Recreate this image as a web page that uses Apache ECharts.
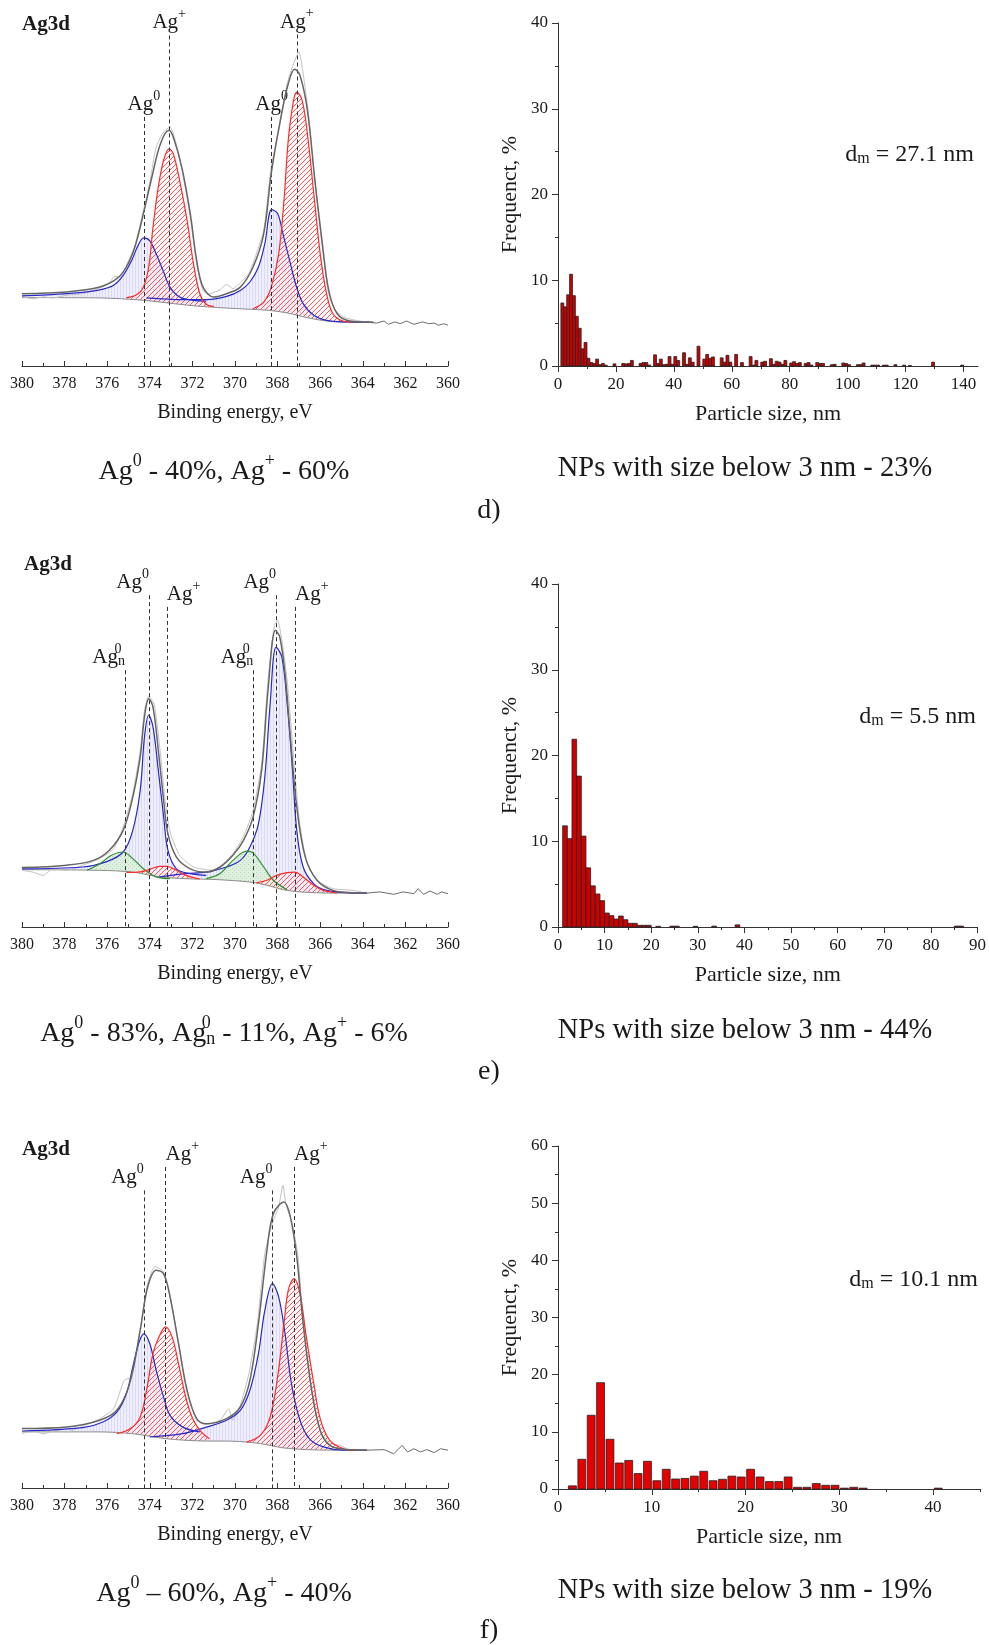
<!DOCTYPE html>
<html>
<head>
<meta charset="utf-8">
<script src="https://cdn.jsdelivr.net/npm/echarts@6.0.0/dist/echarts.min.js"></script>
<style>html,body{margin:0;padding:0;background:#fff}#c{width:989px;height:1645px}</style>
</head>
<body>
<div id="c"></div>
<script>
// ===== XPS panel d) : [binding energy eV, intensity a.u.] =====
const bgD = [[380,22.8],[376.35,22.7],[374.3,21.9],[372.9,20.8],[371.65,19.9],[370.1,19.2],[368.5,18.6],[367.55,17.7],[366.6,16.1],[365.7,15.0],[364.6,14.6],[363.5,14.6]];
const blueD1 = [[380,23.4],[377.9,24.1],[376.35,25.4],[375.7,26.9],[375.25,30.2],[374.85,35.2],[374.55,40.2],[374.28,42.7],[374.0,41.7],[373.7,37.4],[373.35,31.3],[373.05,26.3],[372.6,23.0],[371.95,21.9],[371.35,21.6]];
const blueD2 = [[374.15,22.7],[372.45,22.1],[371.35,22.1],[370.4,23.2],[369.75,25.2],[369.3,28.0],[368.9,33.0],[368.6,40.8],[368.28,52.1],[368.0,50.8],[367.75,44.1],[367.4,34.1],[367.1,26.1],[366.8,20.8],[366.3,16.9],[365.7,15.2],[364.75,14.7],[363.65,14.6]];
const redD1 = [[375.1,22.7],[374.6,23.8],[374.3,26.3],[374.05,33.0],[373.85,46.3],[373.6,59.7],[373.35,68.6],[373.1,72.4],[372.9,70.8],[372.6,61.9],[372.25,48.6],[371.95,34.1],[371.65,24.1],[371.35,20.6],[371.0,19.9]];
const redD2 = [[369.15,19.1],[368.65,21.3],[368.3,26.3],[367.95,37.4],[367.7,55.2],[367.5,75.2],[367.25,88.6],[367.1,91.3],[366.85,88.6],[366.6,77.4],[366.3,57.4],[366.0,37.4],[365.7,24.1],[365.4,17.4],[364.9,14.9],[364.45,14.6]];
const envD = [[380,24.1],[377.9,24.7],[376.35,26.3],[375.55,29.1],[375.1,33.0],[374.7,39.7],[374.3,50.8],[373.9,63.0],[373.5,74.1],[373.1,78.6],[372.9,76.3],[372.5,66.3],[372.1,50.8],[371.8,35.2],[371.5,26.3],[371.0,23.0],[370.4,24.1],[369.75,26.3],[369.15,33.0],[368.65,44.1],[368.3,64.1],[367.9,80.8],[367.5,94.1],[367.2,98.9],[366.95,96.9],[366.6,85.2],[366.25,61.9],[365.9,40.8],[365.6,25.2],[365.2,17.4],[364.6,15.0],[363.5,14.6]];
const rawD = [[380,23.2],[379.5,22.4],[379.0,23.0],[378.55,22.7],[377.9,23.6],[377.15,24.1],[376.35,26.0],[375.9,27.7],[375.65,29.9],[375.4,29.7],[375.1,33.6],[374.7,40.2],[374.3,51.9],[374.0,61.3],[373.7,73.0],[373.35,78.0],[373.05,79.7],[372.8,75.2],[372.5,65.7],[372.1,49.7],[371.8,34.1],[371.5,25.2],[371.2,24.1],[370.7,25.4],[370.4,27.2],[370.1,25.8],[369.75,27.7],[369.35,30.8],[369.0,37.4],[368.65,45.2],[368.3,66.3],[367.95,78.6],[367.55,94.1],[367.25,100.8],[367.0,104.7],[366.8,97.4],[366.55,84.1],[366.25,61.9],[365.9,39.7],[365.6,24.1],[365.3,18.6],[364.9,16.3],[364.45,15.4],[363.8,14.6]];
const tailD = [[363.8,14.6],[363.35,14.3],[363.0,15.0],[362.8,13.9],[362.5,14.7],[362.25,14.1],[361.95,15.0],[361.6,13.9],[361.2,14.7],[360.9,14.1],[360.65,14.3],[360.45,13.6],[360.2,14.1],[360,13.6]];
const peakXD = [374.28, 373.09, 368.28, 367.1];
const peakTopD = [83.0, 110.2, 83.0, 110.5];
const peakLabD = ['Ag0', 'Ag+', 'Ag0', 'Ag+'];

// ===== XPS panel e) =====
const bgE = [[380,19.1],[376.35,18.9],[374.8,18.3],[373.55,16.7],[372.3,16.1],[370.85,15.8],[369.3,15.0],[368.5,13.9],[367.7,12.4],[366.95,11.7],[365.4,11.3],[363.8,11.3]];
const blueE1 = [[380,19.4],[377.15,20.0],[376.05,21.7],[375.25,25.0],[374.8,32.2],[374.45,45.6],[374.25,63.3],[374.05,70.6],[373.85,66.7],[373.6,52.2],[373.35,36.7],[373.15,25.6],[372.75,19.4],[372.1,17.8],[371.35,17.2]];
const blueE2 = [[373.55,16.7],[372.3,17.8],[371.35,18.3],[370.4,20.0],[369.75,22.2],[369.3,26.7],[368.9,34.4],[368.6,50.0],[368.35,74.4],[368.07,93.3],[367.8,90.0],[367.55,74.4],[367.3,52.2],[367.1,32.2],[366.8,20.0],[366.3,14.4],[365.7,12.2],[364.6,11.4],[363.8,11.3]];
const greenE1 = [[376.95,18.9],[376.35,21.1],[375.8,23.9],[375.25,25.0],[374.8,22.8],[374.3,19.4],[373.7,16.7],[373.05,16.1]];
const greenE2 = [[371.35,16.1],[370.7,17.8],[370.1,22.2],[369.45,25.3],[369.15,24.7],[368.65,20.0],[368.2,15.6],[367.55,12.4]];
const redE1 = [[375.1,18.2],[374.45,18.4],[374.0,19.2],[373.55,20.2],[373.2,20.2],[372.75,18.9],[372.3,17.2],[371.65,16.0]];
const redE2 = [[369.0,14.7],[368.5,15.6],[368.05,17.2],[367.55,18.1],[367.2,18.3],[366.8,16.7],[366.3,13.9],[365.85,12.2],[365.2,11.4]];
const envE = [[380,19.8],[377.9,20.6],[376.65,22.2],[375.9,25.6],[375.25,32.2],[374.8,43.3],[374.45,56.7],[374.25,70.0],[374.05,76.1],[373.85,73.3],[373.6,58.9],[373.35,42.2],[373.15,31.1],[372.75,23.3],[372.1,19.4],[371.35,18.3],[370.7,20.0],[370.1,23.9],[369.6,28.9],[369.15,36.7],[368.75,52.2],[368.45,78.9],[368.1,98.9],[367.9,96.7],[367.65,84.4],[367.4,63.3],[367.1,40.0],[366.7,23.3],[366.15,15.6],[365.4,12.2],[364.45,11.4],[363.8,11.3]];
const rawE = [[380,18.9],[379.5,18.3],[379.0,17.2],[378.55,19.4],[377.9,18.9],[377.15,20.6],[376.35,22.8],[375.7,26.1],[375.25,33.3],[374.8,44.4],[374.45,58.9],[374.25,72.2],[374.05,76.9],[373.8,74.4],[373.55,61.1],[373.3,43.3],[373.05,31.7],[372.6,23.9],[371.95,20.0],[371.35,19.1],[371.0,18.9],[370.55,21.1],[370.1,24.4],[369.6,30.2],[369.15,38.9],[368.75,54.4],[368.45,82.2],[368.15,100.6],[368.0,102.2],[367.8,95.6],[367.55,82.2],[367.3,61.1],[367.0,36.7],[366.65,22.2],[366.15,15.6],[365.4,12.8],[364.45,12.2],[363.8,11.3]];
const tailE = [[363.8,11.3],[363.2,11.7],[362.55,10.9],[362.1,11.7],[361.6,11.1],[361.4,12.8],[361.15,10.9],[360.85,12.0],[360.5,10.9],[360.3,11.7],[360,11.1]];
const peakXE = [375.17, 374.04, 373.2, 369.14, 368.07, 367.18];
const peakTopE = [85.6, 110.6, 106.7, 85.6, 110.6, 106.7];
const peakLabE = ['Ag0n', 'Ag0', 'Ag+', 'Ag0n', 'Ag0', 'Ag+'];

// ===== XPS panel f) =====
const bgF = [[380,18.7],[376.35,18.7],[374.8,18.1],[373.2,16.4],[371.65,15.7],[370.1,15.6],[368.8,14.8],[367.75,13.4],[366.65,12.8],[365.4,12.6],[363.8,12.6]];
const blueF1 = [[380,19.0],[377.15,20.1],[376.2,22.0],[375.55,25.3],[375.1,31.4],[374.8,40.3],[374.5,48.7],[374.28,51.4],[374.0,48.1],[373.7,39.2],[373.35,30.3],[373.05,24.2],[372.45,20.3],[371.65,18.7]];
const blueF2 = [[374.0,17.0],[372.45,18.1],[371.35,20.3],[370.4,22.6],[369.75,25.9],[369.3,32.6],[368.9,44.8],[368.6,59.2],[368.24,68.1],[367.95,63.7],[367.65,51.4],[367.35,34.8],[366.95,22.6],[366.5,16.4],[365.85,13.7],[364.9,12.6],[363.8,12.6]];
const redF1 = [[375.55,18.1],[374.9,19.8],[374.45,23.7],[374.15,32.6],[373.85,44.8],[373.5,51.4],[373.26,53.7],[372.95,50.3],[372.65,41.4],[372.35,31.4],[372.05,24.2],[371.65,19.2],[371.2,16.4]];
const redF2 = [[369.45,15.3],[368.8,17.6],[368.35,23.7],[368.0,37.0],[367.7,54.8],[367.5,65.9],[367.23,69.8],[366.95,64.8],[366.65,50.3],[366.3,34.8],[366.0,23.1],[365.55,15.9],[364.9,13.1],[364.3,12.6]];
const envF = [[380,19.8],[377.9,20.3],[376.35,22.6],[375.55,25.9],[374.95,34.8],[374.45,52.6],[374.1,67.0],[373.7,72.6],[373.35,71.4],[373.05,63.7],[372.65,48.1],[372.25,32.6],[371.8,23.1],[371.35,21.4],[370.4,23.1],[369.75,27.0],[369.3,35.9],[368.9,54.8],[368.5,79.2],[368.2,91.4],[367.7,95.3],[367.4,90.3],[367.1,77.0],[366.8,54.8],[366.4,32.6],[366.0,19.2],[365.55,14.2],[364.75,12.8],[363.8,12.6]];
const rawF = [[380,18.1],[379.5,19.0],[379.0,18.1],[378.4,19.2],[377.9,18.7],[377.15,20.6],[376.35,23.1],[375.7,26.4],[375.2,35.9],[374.85,37.0],[374.45,53.1],[374.1,68.1],[373.75,73.9],[373.35,72.0],[373.05,64.2],[372.65,48.1],[372.25,32.0],[371.8,22.6],[371.35,21.2],[370.7,22.6],[370.3,26.4],[370.1,22.6],[369.75,27.6],[369.35,38.1],[368.95,54.8],[368.6,78.1],[368.25,88.1],[367.95,93.7],[367.75,100.9],[367.6,94.2],[367.35,89.2],[367.05,77.6],[366.8,55.9],[366.4,32.0],[366.0,19.2],[365.55,14.8],[365.05,14.2],[364.6,12.6],[363.8,12.6]];
const tailF = [[363.8,12.6],[363.0,12.8],[362.55,11.4],[362.15,14.2],[361.9,12.0],[361.6,13.1],[361.3,12.0],[361.0,12.8],[360.65,11.8],[360.35,13.1],[360,12.6]];
const peakXF = [374.28, 373.26, 368.24, 367.23];
const peakTopF = [99.2, 107, 99.2, 107];
const peakLabF = ['Ag0', 'Ag+', 'Ag0', 'Ag+'];

// ===== Histograms: bin start (nm, 1 nm bins) and frequency % =====
const binsD = [1,2,3,4,5,6,7,8,9,10,11,12,13,14,15,16,19,22,23,24,25,28,29,30,31,33,34,35,36,37,38,39,40,41,43,44,45,46,48,50,51,52,53,56,57,58,59,61,63,66,67,68,70,71,73,74,75,76,77,78,80,81,82,83,85,86,87,89,90,91,94,95,98,99,100,103,104,105,108,109,110,112,113,116,119,121,129,139];
const freqD = [7.35,6.9,8.3,10.7,8.2,5.8,4.4,2.0,2.75,0.9,0.4,0.3,0.8,0.15,0.3,0.1,0.25,0.3,0.25,0.3,0.65,0.3,0.4,0.4,0.1,1.3,0.3,0.8,0.15,0.2,1.1,0.2,1.1,0.65,1.55,0.2,0.95,0.45,2.3,0.8,1.35,0.9,1.05,0.95,0.45,1.25,0.45,1.35,0.4,1.1,0.1,0.65,0.45,0.55,0.85,0.2,0.55,0.45,0.2,0.65,0.35,0.5,0.3,0.4,0.3,0.4,0.1,0.4,0.3,0.3,0.15,0.2,0.35,0.3,0.15,0.15,0.15,0.35,0.1,0.1,0.1,0.1,0.1,0.15,0.1,0.05,0.45,0.1];
const binsE = [1,2,3,4,5,6,7,8,9,10,11,12,13,14,15,16,17,18,19,21,24,25,29,33,38,85,86];
const freqE = [11.8,10.3,21.9,17.6,10.6,6.9,4.8,3.85,3.07,1.63,1.32,0.93,1.28,0.85,0.43,0.43,0.2,0.2,0.2,0.08,0.1,0.1,0.08,0.1,0.25,0.1,0.1];
const binsF = [1,2,3,4,5,6,7,8,9,10,11,12,13,14,15,16,17,18,19,20,21,22,23,24,25,26,27,28,29,30,31,32,40];
const freqF = [0.55,5.2,12.9,18.6,8.7,4.55,5.0,2.7,4.85,1.45,3.45,1.75,1.85,2.25,3.1,1.45,1.7,2.25,2.1,3.45,2.1,1.3,1.3,2.1,0.3,0.3,0.95,0.65,0.65,0.15,0.3,0.15,0.15];

// axis tick values
const xpsTicks = [360, 380, 2];
const majorD = [0,20,40,60,80,100,120,140], minorD = [10,30,50,70,90,110,130];
const majorE = [0,10,20,30,40,50,60,70,80,90], minorE = [5,15,25,35,45,55,65,75,85];
const majorF = [0,10,20,30,40], minorF = [5,15,25,35,45];
const dmTexts = ['27.1', '5.5', '10.1'];

// ===== rendering =====
const FONT = "'Liberation Serif','Times New Roman',serif";
const INK = '#1a1a1a';

function pattern(w, h, draw) {
  const c = document.createElement('canvas'); c.width = w; c.height = h;
  draw(c.getContext('2d'), w, h);
  return { image: c, repeat: 'repeat' };
}
const redHatch = pattern(5, 5, (g, w, h) => {
  g.fillStyle = 'rgba(255,235,235,0.35)'; g.fillRect(0, 0, w, h);
  g.strokeStyle = '#ef4a4a'; g.lineWidth = 0.9; g.beginPath();
  for (let k = -1; k <= 1; k++) { g.moveTo(k * w, h); g.lineTo(k * w + w, 0); }
  g.stroke();
});
const blueFill = pattern(3, 3, (g, w, h) => {
  g.fillStyle = '#eeeefc'; g.fillRect(0, 0, w, h);
  g.fillStyle = '#dadaf5'; g.fillRect(0, 0, 1, h);
});
const greenFill = pattern(4, 4, (g, w, h) => {
  g.fillStyle = '#e0f0e0'; g.fillRect(0, 0, w, h);
  g.fillStyle = '#b5d9b5'; g.fillRect(0, 0, 1, 1); g.fillRect(2, 2, 1, 1);
});

const peakRich = {
  a: { fontFamily: FONT, fontSize: 21, lineHeight: 26, verticalAlign: 'bottom', color: INK },
  p: { fontFamily: FONT, fontSize: 14, lineHeight: 13, verticalAlign: 'top', color: INK },
  q: { fontFamily: FONT, fontSize: 14, lineHeight: 13, verticalAlign: 'top', width: 0, align: 'left', color: INK },
  n: { fontFamily: FONT, fontSize: 14, lineHeight: 10, verticalAlign: 'bottom', color: INK }
};
function peakText(l) {
  if (l === 'Ag0') return '{a|Ag}{p|0}';
  if (l === 'Ag+') return '{a|Ag}{p|+}';
  return '{a|Ag}{q|0}{n|n}';
}

const xps = [
  { bg: bgD, env: envD, raw: rawD, tail: tailD, blue: [blueD1, blueD2], red: [redD1, redD2], green: [], px: peakXD, pt: peakTopD, pl: peakLabD, align: ['center','center','center','center'] },
  { bg: bgE, env: envE, raw: rawE, tail: tailE, blue: [blueE1, blueE2], red: [redE1, redE2], green: [greenE1, greenE2], px: peakXE, pt: peakTopE, pl: peakLabE, align: ['right','right','left','right','right','left'] },
  { bg: bgF, env: envF, raw: rawF, tail: tailF, blue: [blueF1, blueF2], red: [redF1, redF2], green: [], px: peakXF, pt: peakTopF, pl: peakLabF, align: ['right','left','right','left'] }
];
const xpsTops = [21, 582, 1143];
const histTops = [23, 584, 1146];
const hists = [
  { bins: binsD, freq: freqD, max: 145, ymax: 40, major: majorD, minor: minorD, x0: 0, x1: 1, color: '#cc0000', width: 420 },
  { bins: binsE, freq: freqE, max: 90, ymax: 40, major: majorE, minor: minorE, x0: 0, x1: 1, color: '#cc0000', width: 420 },
  { bins: binsF, freq: freqF, max: 45, ymax: 60, major: majorF, minor: minorF, x0: 0.12, x1: 0.96, color: '#e60000', width: 422 }
];

const grids = [], xAxes = [], yAxes = [], series = [];
const axisLineStyle = { color: '#333', width: 1 };

xps.forEach((P, k) => {
  grids.push({ left: 22, top: xpsTops[k], width: 426, height: 345 });
  xAxes.push({
    type: 'value', gridIndex: k, inverse: true, min: xpsTicks[0], max: xpsTicks[1], interval: xpsTicks[2], position: 'bottom',
    axisLine: { onZero: false, lineStyle: axisLineStyle },
    axisTick: { inside: true, length: 5, lineStyle: axisLineStyle },
    minorTick: { show: true, splitNumber: 2, length: 3, lineStyle: axisLineStyle },
    splitLine: { show: false }, minorSplitLine: { show: false },
    axisLabel: { fontFamily: FONT, fontSize: 16, color: INK, margin: 10 },
    name: 'Binding energy, eV', nameLocation: 'middle', nameGap: 37,
    nameTextStyle: { fontFamily: FONT, fontSize: 20, color: INK }
  });
  yAxes.push({ type: 'value', gridIndex: k, min: 0, max: 115, show: false });
});

hists.forEach((H, k) => {
  const g = 3 + k;
  grids.push({ left: 558, top: histTops[k], width: H.width, height: 343 });
  xAxes.push({
    type: 'value', gridIndex: g, min: 0, max: H.max, position: 'bottom',
    axisLine: { onZero: false, lineStyle: axisLineStyle },
    axisTick: { customValues: H.major, length: 6, lineStyle: axisLineStyle },
    axisLabel: { customValues: H.major, fontFamily: FONT, fontSize: 17, color: INK, margin: 10 },
    splitLine: { show: false },
    name: 'Particle size, nm', nameLocation: 'middle', nameGap: 37,
    nameTextStyle: { fontFamily: FONT, fontSize: 22, color: INK }
  });
  xAxes.push({
    type: 'value', gridIndex: g, min: 0, max: H.max, position: 'bottom',
    axisLine: { show: false }, axisLabel: { show: false }, splitLine: { show: false },
    axisTick: { customValues: H.minor, length: 3, lineStyle: axisLineStyle }
  });
  yAxes.push({
    type: 'value', gridIndex: g, min: 0, max: H.ymax, interval: 10,
    axisLine: { show: true, onZero: false, lineStyle: axisLineStyle },
    axisTick: { show: true, length: 6, lineStyle: axisLineStyle },
    minorTick: { show: true, splitNumber: 2, length: 3, lineStyle: axisLineStyle },
    splitLine: { show: false }, minorSplitLine: { show: false },
    axisLabel: { fontFamily: FONT, fontSize: 17, color: INK, margin: 10 },
    name: 'Frequenct, %', nameLocation: 'middle', nameGap: 37,
    nameTextStyle: { fontFamily: FONT, fontSize: 22, color: INK }
  });
});

// XPS series
xps.forEach((P, k) => {
  const ax = { xAxisIndex: k, yAxisIndex: k };
  const addFill = (comp, fill) => {
    series.push(Object.assign({
      type: 'custom', silent: true, animation: false, z: 1, data: comp,
      renderItem: (params, api) => {
        if (params.dataIndex !== 0) return null;
        const a = comp[0][0], b = comp[comp.length - 1][0];
        const lo = Math.min(a, b), hi = Math.max(a, b);
        const under = P.bg.filter(p => p[0] > lo && p[0] < hi).reverse();
        const pts = comp.concat(under).map(p => api.coord(p));
        return { type: 'polygon', shape: { points: pts, smooth: 0.25 }, style: { fill: fill } };
      }
    }, ax));
  };
  P.blue.forEach(c => addFill(c, blueFill));
  P.green.forEach(c => addFill(c, greenFill));
  P.red.forEach(c => addFill(c, redHatch));
  const line = (data, color, w, z, smooth) => series.push(Object.assign({
    type: 'line', data: data, symbol: 'none', smooth: smooth, silent: true, animation: false, z: z,
    lineStyle: { color: color, width: w }
  }, ax));
  line(P.bg, '#8c8c8c', 1, 2, 0.3);
  line(P.raw, '#c2c2c2', 1, 3, 0.2);
  line(P.tail, '#6c6c6c', 1, 3, false);
  P.blue.forEach(c => line(c, '#2828c8', 1.2, 4, 0.35));
  P.green.forEach(c => line(c, '#2f8f2f', 1.2, 4, 0.35));
  P.red.forEach(c => line(c, '#ff2a2a', 1.2, 4, 0.35));
  series.push(Object.assign({
    type: 'line', data: P.env, symbol: 'none', smooth: 0.35, silent: true, animation: false, z: 5,
    lineStyle: { color: '#666666', width: 1.5 },
    markLine: {
      silent: true, animation: false, symbol: ['none', 'none'],
      lineStyle: { type: [4, 3], color: '#333', width: 1 },
      label: { show: true, position: 'start', distance: 2, rich: peakRich, color: INK },
      data: P.px.map((x, i) => [
        { coord: [x, P.pt[i]], label: { formatter: peakText(P.pl[i]), align: P.align[i] } },
        { coord: [x, 0] }
      ])
    }
  }, ax));
});

// Histogram series
hists.forEach((H, k) => {
  series.push({
    type: 'custom', xAxisIndex: 3 + 2 * k, yAxisIndex: 3 + k, silent: true, animation: false,
    data: H.bins.map((b, i) => [b, H.freq[i]]),
    renderItem: (params, api) => {
      const x = api.value(0), v = api.value(1);
      const a = api.coord([x + H.x0, v]);
      const b = api.coord([x + H.x1, 0]);
      return { type: 'rect', shape: { x: a[0], y: a[1], width: b[0] - a[0], height: b[1] - a[1] },
               style: { fill: H.color, stroke: '#222', lineWidth: 0.8 } };
    }
  });
});

// Texts
const capRich = {
  a: { fontFamily: FONT, fontSize: 28, lineHeight: 34, verticalAlign: 'bottom', color: INK },
  p: { fontFamily: FONT, fontSize: 18, lineHeight: 16, verticalAlign: 'top', color: INK },
  q: { fontFamily: FONT, fontSize: 18, lineHeight: 16, verticalAlign: 'top', width: 0, align: 'left', color: INK },
  n: { fontFamily: FONT, fontSize: 18, lineHeight: 12, verticalAlign: 'bottom', color: INK }
};
const dmRich = {
  i: { fontFamily: FONT, fontSize: 24, lineHeight: 28, verticalAlign: 'bottom', color: INK },
  s: { fontFamily: FONT, fontSize: 16, lineHeight: 10, verticalAlign: 'bottom', color: INK }
};
const graphic = [];
const addText = (x, y, text, rich, align, font) => graphic.push({
  type: 'text', x: x, y: y, silent: true, z: 10,
  style: { text: text, rich: rich, align: align || 'center', verticalAlign: 'middle', fill: INK, font: font || ('28px ' + FONT) }
});
const ag3dPos = [[22, 25], [24, 565], [22, 1150]];
ag3dPos.forEach(p => addText(p[0], p[1], 'Ag3d', null, 'left', 'bold 21px ' + FONT));
const dmPos = [[974, 153], [976, 715], [978, 1278]];
dmPos.forEach((p, i) => addText(p[0], p[1], '{i|d}{s|m}{i| = ' + dmTexts[i] + ' nm}', dmRich, 'right'));
const capY = [469, 1031, 1591], letterY = [511, 1072, 1631];
const xpsCaps = [
  '{a|Ag}{p|0}{a| - 40%, Ag}{p|+}{a| - 60%}',
  '{a|Ag}{p|0}{a| - 83%, Ag}{q|0}{n|n}{a| - 11%, Ag}{p|+}{a| - 6%}',
  '{a|Ag}{p|0}{a| \u2013 60%, Ag}{p|+}{a| - 40%}'
];
const npCaps = ['23%', '44%', '19%'];
const letters = ['d)', 'e)', 'f)'];
capY.forEach((y, i) => {
  addText(224, y, xpsCaps[i], capRich, 'center');
  addText(745, y, 'NPs with size below 3 nm - ' + npCaps[i], null, 'center', '28.5px ' + FONT);
  addText(489, letterY[i], letters[i], null, 'center', '28px ' + FONT);
});

const chart = echarts.init(document.getElementById('c'));
chart.setOption({
  backgroundColor: '#fff',
  animation: false,
  textStyle: { fontFamily: FONT },
  grid: grids, xAxis: xAxes, yAxis: yAxes, series: series, graphic: graphic
});
</script>
</body>
</html>
